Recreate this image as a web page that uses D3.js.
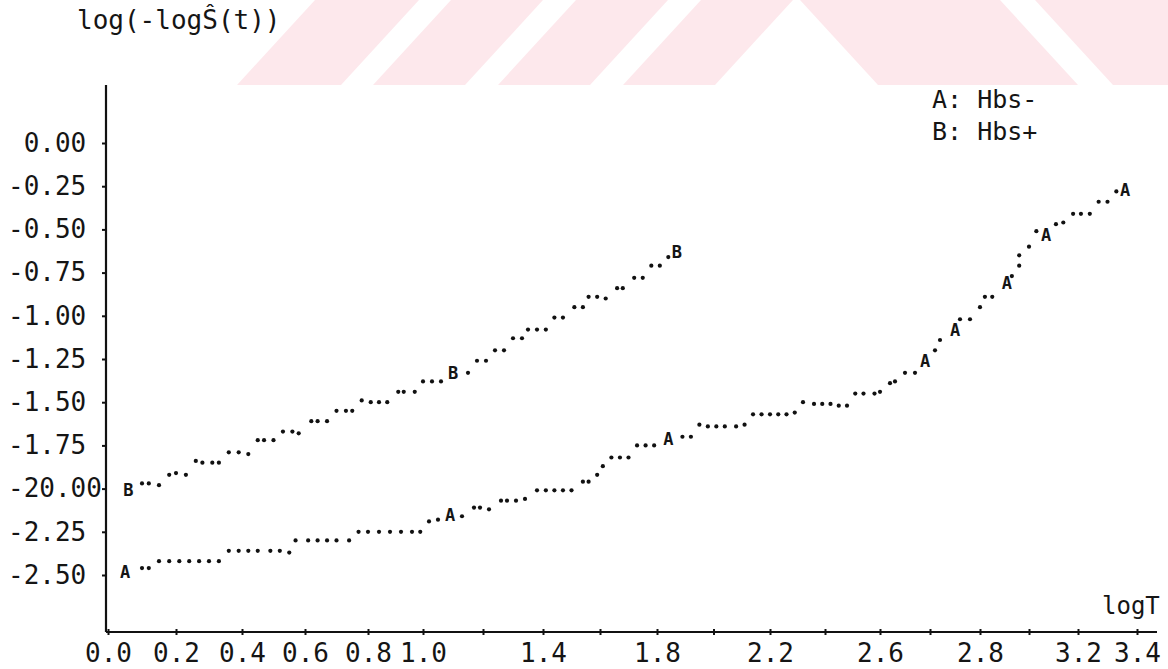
<!DOCTYPE html>
<html>
<head>
<meta charset="utf-8">
<script src="https://cdn.jsdelivr.net/npm/d3@7"></script>
<style>
  body { margin: 0; background: #fff; }
  text { font-family: "DejaVu Sans Mono", monospace; fill: #151515; }
</style>
</head>
<body>
<div id="chart"></div>
<script>
// Hbs- (curve A), every printed dot
var hbsNeg = [
  [0.10, -2.46], [0.12, -2.46],
  [0.15, -2.42], [0.18, -2.42], [0.21, -2.42], [0.24, -2.42], [0.27, -2.42], [0.30, -2.42], [0.33, -2.42],
  [0.36, -2.36], [0.39, -2.36], [0.42, -2.36], [0.45, -2.36], [0.49, -2.36], [0.52, -2.36], [0.55, -2.37],
  [0.57, -2.30], [0.61, -2.30], [0.64, -2.30], [0.67, -2.30], [0.70, -2.30], [0.74, -2.30],
  [0.77, -2.25], [0.80, -2.25], [0.84, -2.25], [0.88, -2.25], [0.92, -2.25], [0.96, -2.25], [0.99, -2.25],
  [1.02, -2.19], [1.05, -2.18], [1.13, -2.16],
  [1.17, -2.11], [1.19, -2.11], [1.22, -2.12],
  [1.26, -2.07], [1.28, -2.07], [1.31, -2.07], [1.34, -2.06],
  [1.38, -2.01], [1.41, -2.01], [1.44, -2.01], [1.47, -2.01], [1.50, -2.01],
  [1.54, -1.96], [1.56, -1.96], [1.59, -1.92], [1.61, -1.87],
  [1.64, -1.82], [1.67, -1.82], [1.70, -1.82],
  [1.73, -1.75], [1.76, -1.75], [1.79, -1.75],
  [1.89, -1.70], [1.92, -1.70],
  [1.95, -1.63], [1.98, -1.64], [2.01, -1.64], [2.04, -1.64], [2.08, -1.64], [2.11, -1.63],
  [2.14, -1.57], [2.17, -1.57], [2.20, -1.57], [2.23, -1.57], [2.26, -1.57], [2.29, -1.56],
  [2.32, -1.50], [2.36, -1.51], [2.39, -1.51], [2.42, -1.51], [2.45, -1.52], [2.48, -1.52],
  [2.51, -1.45], [2.54, -1.45], [2.58, -1.45], [2.60, -1.44],
  [2.62, -1.39], [2.63, -1.38], [2.65, -1.33], [2.67, -1.33],
  [2.71, -1.20], [2.72, -1.14],
  [2.76, -1.02], [2.78, -1.02], [2.80, -0.95],
  [2.82, -0.89], [2.85, -0.89],
  [2.93, -0.77], [2.96, -0.71], [2.96, -0.65], [3.00, -0.60], [3.03, -0.51],
  [3.11, -0.47], [3.14, -0.46],
  [3.18, -0.41], [3.21, -0.41], [3.24, -0.41],
  [3.27, -0.34], [3.30, -0.34], [3.33, -0.28]
];
// points where the plotter printed the letter A instead of a dot
var hbsNegLetters = [
  [0.05, -2.48], [1.09, -2.15], [1.84, -1.71], [2.69, -1.26],
  [2.75, -1.08], [2.91, -0.81], [3.07, -0.53], [3.36, -0.27]
];

// Hbs+ (curve B)
var hbsPos = [
  [0.10, -1.97], [0.12, -1.97], [0.15, -1.98],
  [0.18, -1.92], [0.20, -1.91], [0.23, -1.92],
  [0.26, -1.84], [0.28, -1.85], [0.31, -1.85], [0.33, -1.85],
  [0.36, -1.79], [0.39, -1.79], [0.42, -1.80],
  [0.45, -1.72], [0.47, -1.72], [0.50, -1.72],
  [0.53, -1.67], [0.56, -1.67], [0.58, -1.68],
  [0.62, -1.61], [0.64, -1.61], [0.67, -1.61],
  [0.70, -1.55], [0.73, -1.55], [0.75, -1.55],
  [0.78, -1.49], [0.81, -1.50], [0.84, -1.50], [0.87, -1.50],
  [0.91, -1.44], [0.93, -1.44], [0.97, -1.44],
  [1.00, -1.38], [1.03, -1.38], [1.06, -1.38],
  [1.15, -1.33],
  [1.18, -1.26], [1.21, -1.26],
  [1.24, -1.20], [1.27, -1.20],
  [1.30, -1.13], [1.33, -1.13],
  [1.35, -1.08], [1.38, -1.08], [1.41, -1.08],
  [1.44, -1.01], [1.47, -1.01],
  [1.51, -0.95], [1.54, -0.95],
  [1.56, -0.89], [1.59, -0.89], [1.62, -0.90],
  [1.66, -0.84], [1.68, -0.84],
  [1.72, -0.78], [1.75, -0.78],
  [1.78, -0.71], [1.81, -0.71],
  [1.84, -0.66]
];
var hbsPosLetters = [[0.06, -2.01], [1.10, -1.33], [1.87, -0.63]];

// axis ticks as printed
var xLabelTicks = [0.0, 0.2, 0.4, 0.6, 0.8, 1.0, 1.4, 1.8, 2.2, 2.6, 2.8, 3.2, 3.4];
var xMinorTicks = [1.2, 1.6, 2.0, 2.4, 2.7, 3.0];
var yTicks = [0, -0.25, -0.5, -0.75, -1, -1.25, -1.5, -1.75, -2, -2.25, -2.5];
var yTickLabels = [" 0.00", "-0.25", "-0.50", "-0.75", "-1.00", "-1.25", "-1.50", "-1.75", "-20.00", "-2.25", "-2.50"];
var legendLines = ["A: Hbs-", "B: Hbs+"];

var width = 1168;
var height = 669;
var plot = { left: 106, right: 1157, top: 85, bottom: 632 };
// the plotter spaced its x labels unevenly, so the scale is piecewise
var xTickPx = [108, 176, 242, 305, 368, 423, 543, 657, 770, 880, 980, 1078, 1137];

var xScale = d3.scaleLinear().domain(xLabelTicks).range(xTickPx);
var yScale = d3.scaleLinear().domain([0, -2.5]).range([143, 575]);

var svg = d3
  .select("#chart")
  .append("svg")
  .attr("width", width)
  .attr("height", height);

// pink watermark stripes behind the top of the page
var wm = svg.append("g").attr("fill", "#fde8ec");
var leftStripes = [237, 373, 498, 623];
leftStripes.forEach(function(x0, i) {
  var w = i == 0 ? 104 : 92;
  wm.append("polygon").attr("points", [
    [x0, 85], [x0 + w, 85], [x0 + w + 78, 0], [x0 + 78, 0]
  ].join(" "));
});
var rightStripes = [800, 1035];
rightStripes.forEach(function(x0, i) {
  var w = i == 0 ? 200 : 140;
  wm.append("polygon").attr("points", [
    [x0, 0], [x0 + w, 0], [x0 + w + 78, 85], [x0 + 78, 85]
  ].join(" "));
});

// axes lines
svg.append("line")
  .attr("x1", plot.left).attr("x2", plot.left)
  .attr("y1", plot.top).attr("y2", plot.bottom)
  .attr("stroke", "#111").attr("stroke-width", 2.2);
svg.append("line")
  .attr("x1", plot.left).attr("x2", plot.right)
  .attr("y1", plot.bottom).attr("y2", plot.bottom)
  .attr("stroke", "#111").attr("stroke-width", 2.2);

var xAxis = d3
  .axisBottom(xScale)
  .tickValues(xLabelTicks.concat(xMinorTicks))
  .tickSize(3)
  .tickFormat(function(d) {
    return xLabelTicks.indexOf(d) >= 0 ? d.toFixed(1) : "";
  });

var gx = svg.append("g")
  .attr("transform", "translate(0," + plot.bottom + ")")
  .call(xAxis);
gx.select(".domain").remove();
gx.selectAll("line").attr("stroke", "#111").attr("stroke-width", 2).attr("y1", -3);
gx.selectAll("text")
  .attr("y", 30)
  .attr("dy", 0)
  .style("font-size", "26px")
  .style("font-family", '"DejaVu Sans Mono", monospace');

var yAxis = d3
  .axisLeft(yScale)
  .tickValues(yTicks)
  .tickSize(4)
  .tickFormat(function(d, i) {
    return yTickLabels[i];
  });

var gy = svg.append("g")
  .attr("transform", "translate(" + plot.left + ",0)")
  .call(yAxis);
gy.select(".domain").remove();
gy.selectAll("line").attr("stroke", "#111").attr("stroke-width", 2);
gy.selectAll("text")
  .attr("text-anchor", "start")
  .attr("x", 8 - plot.left)
  .attr("xml:space", "preserve")
  .style("white-space", "pre")
  .style("font-size", "26px")
  .style("font-family", '"DejaVu Sans Mono", monospace');

// titles
svg.append("text")
  .attr("x", 77)
  .attr("y", 29)
  .style("font-size", "26px")
  .text("log(-logŜ(t))");

svg.append("text")
  .attr("x", 1102)
  .attr("y", 614)
  .style("font-size", "24px")
  .text("logT");

// legend
svg.selectAll(".legend")
  .data(legendLines)
  .enter()
  .append("text")
  .attr("class", "legend")
  .attr("x", 932)
  .attr("y", function(d, i) {
    return 108 + i * 32;
  })
  .style("font-size", "25px")
  .text(function(d) {
    return d;
  });

// dots of both curves
var dots = svg.append("g").attr("fill", "#111");
[hbsNeg, hbsPos].forEach(function(series) {
  dots.selectAll(null)
    .data(series)
    .enter()
    .append("circle")
    .attr("cx", function(d) { return xScale(d[0]); })
    .attr("cy", function(d) { return yScale(d[1]); })
    .attr("r", 2.1);
});

// letter symbols
function letters(data, ch) {
  svg.selectAll(null)
    .data(data)
    .enter()
    .append("text")
    .attr("x", function(d) { return xScale(d[0]); })
    .attr("y", function(d) { return yScale(d[1]); })
    .attr("dy", "0.36em")
    .attr("text-anchor", "middle")
    .style("font-size", "17px")
    .style("font-weight", "bold")
    .text(ch);
}
letters(hbsNegLetters, "A");
letters(hbsPosLetters, "B");
</script>
</body>
</html>
